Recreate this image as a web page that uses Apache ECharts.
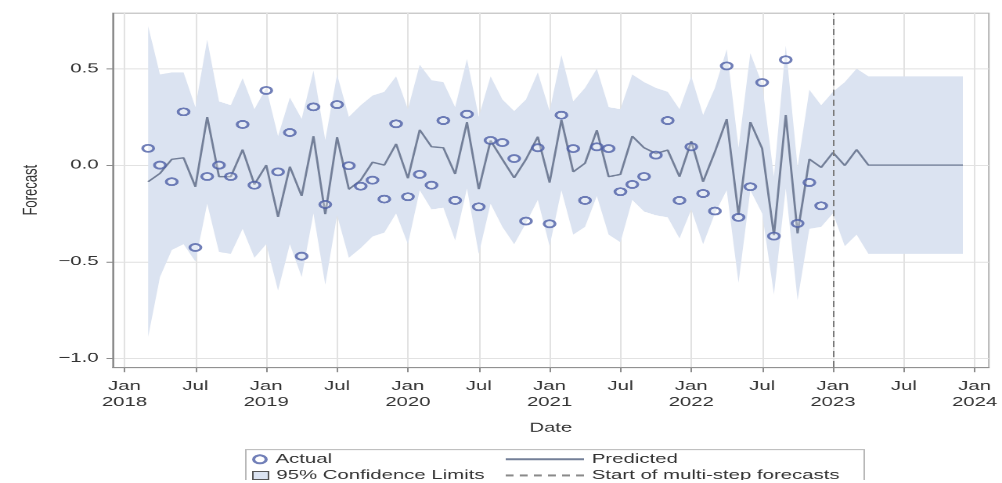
<!DOCTYPE html>
<html>
<head>
<meta charset="utf-8">
<script src="https://cdn.jsdelivr.net/npm/echarts@6/dist/echarts.min.js"></script>
<style>
  html, body { margin: 0; padding: 0; background: #fff; overflow: hidden; }
  /* the graph is laid out on a 640x480 page and stretched to fill the 1002x483 window */
  #chart {
    width: 640px; height: 480px;
    transform-origin: 0 0;
    transform: scale(1.565625, 1.00625);
  }
</style>
</head>
<body>
<div id="chart"></div>
<script>
// x positions are months counted from Jan 2018 (0 = Jan 2018)
const firstMonth = 2;          // first observation: Mar 2018
const forecastStart = 60;      // Jan 2023, start of multi-step forecasts

const actual = [
  0.087, 0.000, -0.086, 0.276, -0.427, -0.059, 0.000, -0.059, 0.211, -0.104,
  0.387, -0.035, 0.169, -0.472, 0.302, -0.204, 0.314, -0.003, -0.109, -0.078,
  -0.176, 0.214, -0.164, -0.048, -0.104, 0.231, -0.183, 0.264, -0.216, 0.128,
  0.117, 0.034, -0.290, 0.090, -0.304, 0.259, 0.086, -0.183, 0.095, 0.086,
  -0.138, -0.100, -0.059, 0.052, 0.231, -0.183, 0.095, -0.147, -0.238, 0.514,
  -0.271, -0.112, 0.428, -0.368, 0.546, -0.302, -0.090, -0.211
];

const predicted = [
  -0.086, -0.043, 0.030, 0.038, -0.112, 0.250, -0.060, -0.060, 0.080, -0.100,
  0.000, -0.268, -0.008, -0.160, 0.150, -0.255, 0.145, -0.125, -0.078, 0.015,
  0.000, 0.110, -0.068, 0.183, 0.095, 0.090, -0.046, 0.222, -0.125, 0.127,
  0.030, -0.066, 0.030, 0.147, -0.090, 0.235, -0.035, 0.010, 0.181, -0.060,
  -0.048, 0.150, 0.090, 0.060, 0.078, -0.060, 0.124, -0.086, 0.069, 0.238,
  -0.259, 0.224, 0.086, -0.363, 0.259, -0.354, 0.031, -0.012, 0.065, -0.002,
  0.080, 0.000, 0.000, 0.000, 0.000, 0.000, 0.000, 0.000, 0.000, 0.000
];

const upper = [
  0.72, 0.47, 0.48, 0.48, 0.30, 0.65, 0.33, 0.31, 0.45, 0.29,
  0.40, 0.15, 0.35, 0.24, 0.49, 0.13, 0.47, 0.25, 0.31, 0.36,
  0.38, 0.46, 0.29, 0.52, 0.44, 0.43, 0.30, 0.55, 0.25, 0.46,
  0.34, 0.28, 0.34, 0.48, 0.28, 0.57, 0.33, 0.40, 0.50, 0.30,
  0.29, 0.47, 0.43, 0.40, 0.38, 0.29, 0.46, 0.26, 0.40, 0.60,
  0.09, 0.58, 0.42, -0.06, 0.62, -0.01, 0.39, 0.31, 0.38, 0.43,
  0.50, 0.46, 0.46, 0.46, 0.46, 0.46, 0.46, 0.46, 0.46, 0.46
];

const lower = [
  -0.89, -0.58, -0.44, -0.41, -0.50, -0.20, -0.45, -0.46, -0.33, -0.48,
  -0.41, -0.65, -0.41, -0.58, -0.25, -0.62, -0.26, -0.48, -0.43, -0.37,
  -0.35, -0.25, -0.41, -0.13, -0.23, -0.22, -0.39, -0.12, -0.46, -0.20,
  -0.32, -0.41, -0.30, -0.18, -0.42, -0.13, -0.36, -0.32, -0.16, -0.36,
  -0.40, -0.18, -0.24, -0.26, -0.27, -0.38, -0.23, -0.41, -0.25, -0.13,
  -0.61, -0.13, -0.25, -0.67, -0.12, -0.70, -0.33, -0.32, -0.25, -0.42,
  -0.36, -0.46, -0.46, -0.46, -0.46, -0.46, -0.46, -0.46, -0.46, -0.46
];

const xTicks = [0, 6, 12, 18, 24, 30, 36, 42, 48, 54, 60, 66, 72];
const xTickLabels = ['Jan\n2018', 'Jul', 'Jan\n2019', 'Jul', 'Jan\n2020', 'Jul',
  'Jan\n2021', 'Jul', 'Jan\n2022', 'Jul', 'Jan\n2023', 'Jul', 'Jan\n2024'];
const yTicks = [-1, -0.5, 0, 0.5];
const yTickLabels = ['\u22121.0', '\u22120.5', '0.0', '0.5'];

const FONT = 'Liberation Sans, Arial, sans-serif';
const TEXT = '#333333';
const bandColor = '#dbe3f1';
const lineColor = '#737f98';
const markerColor = '#4d5fa6';
const dashColor = '#8a8a8a';
const axisColor = '#8c8c8c';
const gridColor = '#e2e2e2';

const actualData = actual.map((v, i) => [firstMonth + i, v]);
const predData = predicted.map((v, i) => [firstMonth + i, v]);
const bandData = upper.map((u, i) => [firstMonth + i, lower[i], u]);

const legendText = { fontSize: 13, color: TEXT, fontFamily: FONT };
function legendAt(left, top, itemWidth, item) {
  return {
    left: left, top: top, padding: 0, itemGap: 0,
    itemWidth: itemWidth, itemHeight: 8,
    selectedMode: false,
    textStyle: legendText,
    data: [item]
  };
}

const chart = echarts.init(document.getElementById('chart'), null,
  { renderer: 'canvas', devicePixelRatio: 2 });

chart.setOption({
  animation: false,
  backgroundColor: '#fff',
  textStyle: { fontFamily: FONT },
  grid: {
    left: 72, right: 6, top: 13, bottom: 115,
    show: true, borderColor: '#b4b4b4', borderWidth: 1, backgroundColor: 'transparent'
  },
  xAxis: {
    type: 'value', min: -1.0, max: 73.2,
    name: 'Date', nameLocation: 'middle', nameGap: 54,
    nameTextStyle: { fontSize: 13, color: TEXT, fontFamily: FONT },
    axisLine: { show: true, onZero: false, lineStyle: { color: axisColor } },
    axisTick: { show: true, length: 5, customValues: xTicks, lineStyle: { color: axisColor } },
    axisLabel: {
      customValues: xTicks, margin: 11, fontSize: 13, lineHeight: 16, color: TEXT,
      formatter: v => xTickLabels[xTicks.indexOf(Math.round(v))] || ''
    },
    splitLine: { show: true, lineStyle: { color: gridColor, width: 1 } }
  },
  yAxis: {
    type: 'value', min: -1.048, max: 0.788,
    name: 'Forecast', nameLocation: 'middle', nameGap: 37, nameRotate: 90,
    nameTextStyle: { fontSize: 13, color: TEXT, fontFamily: FONT },
    axisLine: { show: true, onZero: false, lineStyle: { color: axisColor } },
    axisTick: { show: true, length: 4, customValues: yTicks, lineStyle: { color: axisColor } },
    axisLabel: {
      customValues: yTicks, margin: 9, fontSize: 13, color: TEXT,
      formatter: v => yTickLabels[yTicks.indexOf(v)] || ''
    },
    splitLine: { show: true, lineStyle: { color: gridColor, width: 1 } }
  },
  legend: [
    legendAt(161, 450, 10, { name: 'Actual', icon: 'circle' }),
    legendAt(161, 466, 10, { name: '95% Confidence Limits', icon: 'rect',
      itemStyle: { color: bandColor, borderColor: '#555', borderWidth: 1 } }),
    legendAt(322, 450, 50, { name: 'Predicted', itemStyle: { opacity: 0 } }),
    legendAt(322, 466, 50, { name: 'Start of multi-step forecasts', itemStyle: { opacity: 0 } })
  ],
  graphic: [{
    type: 'rect', left: 154.5, top: 444.5, silent: true,
    shape: { width: 395, height: 40 },
    style: { fill: 'none', stroke: '#b8b8b8', lineWidth: 1 }
  }],
  series: [
    {
      name: '95% Confidence Limits',
      type: 'custom',
      data: bandData,
      encode: { x: 0, y: [1, 2] },
      itemStyle: { color: bandColor },
      z: 1,
      renderItem: function (params, api) {
        if (params.dataIndex !== 0) return null;
        const top = bandData.map(d => api.coord([d[0], d[2]]));
        const bot = bandData.map(d => api.coord([d[0], d[1]])).reverse();
        return {
          type: 'polygon',
          shape: { points: top.concat(bot) },
          style: { fill: bandColor, stroke: null }
        };
      }
    },
    {
      name: 'Predicted',
      type: 'line',
      data: predData,
      symbol: 'none',
      lineStyle: { color: lineColor, width: 1.4 },
      itemStyle: { color: lineColor },
      z: 3
    },
    {
      name: 'Actual',
      type: 'scatter',
      data: actualData,
      symbol: 'circle',
      symbolSize: 7,
      itemStyle: { color: 'rgba(255,255,255,0.35)', borderColor: markerColor, borderWidth: 1.8 },
      z: 4
    },
    {
      name: 'Start of multi-step forecasts',
      type: 'line',
      data: [],
      symbol: 'none',
      lineStyle: { color: dashColor, width: 1, type: [5, 4] },
      itemStyle: { color: dashColor },
      markLine: {
        silent: true, symbol: 'none', label: { show: false },
        lineStyle: { color: '#7a7a7a', width: 1, type: [6, 4] },
        data: [{ xAxis: forecastStart }]
      },
      z: 2
    }
  ]
});
</script>
</body>
</html>
